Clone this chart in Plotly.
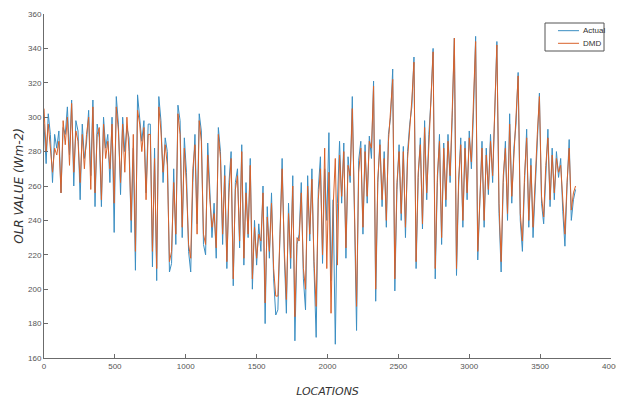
import plotly.graph_objects as go

# Locations (x) sampled every 15 units, 0..3750
locations = list(range(0, 3751, 15))

actual_olr = [
    296, 273, 302, 290, 262, 290, 282, 292, 256, 294,
    290, 306, 278, 310, 260, 298, 292, 252, 296, 276,
    285, 304, 266, 310, 248, 296, 288, 248, 300, 282,
    290, 262, 300, 233, 312, 296, 255, 300, 280, 294,
    288, 233, 282, 211, 313, 300, 286, 298, 256, 296,
    296, 213, 282, 205, 312, 298, 262, 288, 280, 210,
    215, 270, 226, 307, 298, 230, 288, 268, 222, 210,
    262, 290, 238, 302, 292, 226, 220, 285, 260, 230,
    250, 218, 294, 280, 226, 272, 212, 262, 280, 202,
    262, 270, 224, 284, 214, 262, 230, 276, 200, 240,
    214, 238, 222, 260, 180, 248, 218, 256, 206, 185,
    188, 236, 276, 220, 186, 250, 212, 266, 170, 226,
    232, 262, 206, 188, 266, 228, 270, 212, 172, 258,
    277, 215, 270, 240, 291, 205, 252, 168, 250, 286,
    250, 285, 218, 277, 262, 312, 240, 176, 275, 286,
    232, 284, 250, 289, 276, 321, 193, 262, 287, 248,
    280, 236, 290, 300, 328, 199, 258, 284, 240, 283,
    230, 280, 296, 306, 335, 212, 265, 288, 235, 298,
    252, 290, 310, 340, 206, 262, 290, 226, 285, 248,
    290, 262, 300, 346, 208, 260, 288, 236, 286, 252,
    292, 270, 303, 347, 217, 248, 286, 236, 282, 255,
    290, 262, 300, 344, 244, 210, 262, 286, 240, 302,
    250, 282, 296, 326, 240, 222, 262, 293, 236, 276,
    230, 262, 285, 314, 250, 238, 270, 293, 248, 282,
    252, 280, 265, 276, 245, 225, 260, 287, 240, 252,
    258,
]

dmd_olr = [
    305, 280, 296, 284, 268, 282, 278, 286, 256, 298,
    284, 300, 272, 308, 268, 292, 286, 262, 290, 270,
    290, 300, 258, 306, 256, 290, 294, 252, 296, 276,
    286, 270, 296, 250, 306, 292, 262, 296, 268, 300,
    280, 240, 290, 222, 304, 296, 280, 294, 252, 290,
    290, 222, 276, 212, 306, 292, 268, 284, 272, 216,
    222, 262, 232, 302, 290, 236, 282, 260, 226, 218,
    270, 284, 232, 298, 286, 232, 226, 278, 252, 236,
    244, 224, 290, 276, 232, 266, 216, 256, 276, 206,
    258, 266, 228, 280, 218, 256, 232, 272, 206, 236,
    218, 232, 228, 256, 192, 242, 222, 250, 212, 196,
    196, 232, 270, 224, 194, 244, 218, 260, 184, 230,
    228, 256, 212, 200, 260, 232, 264, 216, 190, 252,
    270, 220, 282, 212, 268, 186, 248, 276, 214, 278,
    254, 280, 224, 272, 266, 305, 246, 190, 268, 282,
    236, 280, 254, 286, 282, 318, 200, 264, 284, 252,
    276, 240, 286, 304, 322, 206, 262, 280, 244, 280,
    236, 276, 292, 310, 332, 216, 268, 284, 238, 294,
    256, 286, 316, 338, 212, 266, 286, 230, 282, 252,
    286, 266, 304, 346, 212, 264, 284, 240, 282, 256,
    288, 274, 310, 344, 222, 252, 282, 240, 278, 258,
    286, 266, 306, 342, 250, 216, 266, 282, 244, 296,
    254, 280, 300, 324, 244, 228, 266, 288, 240, 272,
    236, 266, 290, 312, 254, 242, 272, 288, 252, 278,
    256, 276, 268, 272, 250, 232, 262, 282, 246, 256,
    260,
]

series_names = ["Actual", "DMD"]
series_colors = ["#3b8ec2", "#d9622b"]

x_ticks = [0, 500, 1000, 1500, 2000, 2500, 3000, 3500, 4000]
y_ticks = [160, 180, 200, 220, 240, 260, 280, 300, 320, 340, 360]

fig = go.Figure()
for name, vals, col in zip(series_names, [actual_olr, dmd_olr], series_colors):
    fig.add_trace(go.Scatter(x=locations, y=vals, mode="lines", name=name,
                             line=dict(color=col, width=1), showlegend=False))

# Compact MATLAB-style legend box (drawn manually in paper coordinates)
legend_font = dict(family="Liberation Sans Narrow, Liberation Sans, Arial", size=8, color="#333333")
fig.add_shape(type="rect", xref="paper", yref="paper", x0=0.8836, x1=0.9877, y0=0.8924, y1=0.9738,
              line=dict(color="#555555", width=1), fillcolor="white", layer="above")
for i, (name, col) in enumerate(zip(series_names, series_colors)):
    yy = 0.9515 - i * 0.0367
    fig.add_shape(type="line", xref="paper", yref="paper", x0=0.9065, x1=0.9436, y0=yy, y1=yy,
                  line=dict(color=col, width=1), layer="above")
    fig.add_annotation(xref="paper", yref="paper", x=0.9470, y=yy, text=name, showarrow=False,
                       xanchor="left", yanchor="middle", font=legend_font)

axis_common = dict(showline=True, linecolor="#6b6b6b", linewidth=1, ticks="inside",
                   ticklen=4, tickcolor="#6b6b6b", showgrid=False, zeroline=False,
                   automargin=False,
                   tickfont=dict(family="Liberation Sans Narrow, Liberation Sans, Arial",
                                 size=8, color="#555555"), mirror=False)

fig.update_layout(
    width=616, height=390,
    margin=dict(l=36, r=13, t=6, b=40),
    paper_bgcolor="white", plot_bgcolor="white",
    showlegend=False,
    xaxis=dict(range=[0, 4000], tickvals=x_ticks, **axis_common,
               title=dict(text="<i>LOCATIONS</i>", standoff=24,
                          font=dict(family="DejaVu Sans, Liberation Sans", size=11, color="#333333"))),
    yaxis=dict(range=[160, 360], tickvals=y_ticks, **axis_common,
               title=dict(text="<i>OLR VALUE (Wm-2)</i>", standoff=1,
                          font=dict(family="DejaVu Sans, Liberation Sans", size=12, color="#333333"))),
)

fig.write_html("out.html")
